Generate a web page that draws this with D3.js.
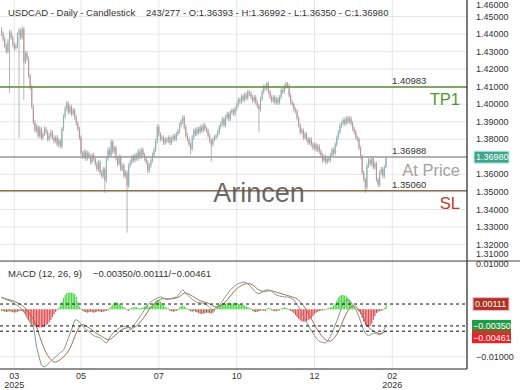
<!DOCTYPE html>
<html>
<head>
<meta charset="utf-8">
<script src="https://cdn.jsdelivr.net/npm/d3@7"></script>
<style>
  body { margin: 0; background: #fff; }
  svg { display: block; font-family: "Liberation Sans", Arial, sans-serif; }
</style>
</head>
<body>
<div id="chart"></div>
<script>
// Daily candles (bar index 0..242)
const candleOpen = [
  1.4420, 1.4400, 1.4370, 1.4330, 1.4300, 1.4360, 1.4410, 1.4380, 1.4340, 1.4320,
  1.4330, 1.4395, 1.4420, 1.4380, 1.4430, 1.4240, 1.4290, 1.4260, 1.4160, 1.4095,
  1.3985, 1.3895, 1.3850, 1.3870, 1.3820, 1.3860, 1.3808, 1.3830, 1.3860, 1.3840,
  1.3800, 1.3820, 1.3840, 1.3810, 1.3790, 1.3810, 1.3770, 1.3790, 1.3760, 1.3860,
  1.3930, 1.3975, 1.4005, 1.3955, 1.3985, 1.3945, 1.3965, 1.3925, 1.3890, 1.3860,
  1.3810, 1.3720, 1.3700, 1.3730, 1.3690, 1.3720, 1.3700, 1.3670, 1.3710, 1.3690,
  1.3660, 1.3630, 1.3670, 1.3610, 1.3590, 1.3630, 1.3565, 1.3690, 1.3740, 1.3710,
  1.3785, 1.3730, 1.3750, 1.3690, 1.3660, 1.3700, 1.3630, 1.3650, 1.3590, 1.3610,
  1.3535, 1.3650, 1.3670, 1.3700, 1.3680, 1.3710, 1.3690, 1.3730, 1.3700, 1.3740,
  1.3710, 1.3690, 1.3670, 1.3620, 1.3650, 1.3680, 1.3710, 1.3740, 1.3790, 1.3870,
  1.3830, 1.3800, 1.3810, 1.3780, 1.3800, 1.3790, 1.3810, 1.3780, 1.3800, 1.3820,
  1.3800, 1.3830, 1.3845, 1.3880, 1.3900, 1.3925, 1.3870, 1.3820, 1.3800, 1.3770,
  1.3745, 1.3810, 1.3850, 1.3830, 1.3860, 1.3840, 1.3870, 1.3850, 1.3880, 1.3860,
  1.3850, 1.3820, 1.3790, 1.3770, 1.3800, 1.3810, 1.3820, 1.3840, 1.3870, 1.3890,
  1.3915, 1.3880, 1.3925, 1.3945, 1.3915, 1.3955, 1.3965, 1.3945, 1.3975, 1.3995,
  1.4025, 1.4015, 1.4045, 1.4025, 1.4055, 1.4035, 1.4070, 1.4060, 1.4040, 1.4020,
  1.4040, 1.4010, 1.3990, 1.3970, 1.4030, 1.4070, 1.4100, 1.4090, 1.4120, 1.4070,
  1.4040, 1.4020, 1.4040, 1.4010, 1.4030, 1.4010, 1.4040, 1.4080, 1.4070, 1.4100,
  1.4118, 1.4105, 1.4050, 1.4010, 1.4000, 1.3970, 1.3960, 1.3920, 1.3880, 1.3840,
  1.3850, 1.3810, 1.3830, 1.3800, 1.3780, 1.3800, 1.3770, 1.3750, 1.3770, 1.3740,
  1.3760, 1.3730, 1.3710, 1.3680, 1.3700, 1.3670, 1.3690, 1.3680, 1.3710, 1.3740,
  1.3720, 1.3770, 1.3810, 1.3840, 1.3880, 1.3890, 1.3910, 1.3890, 1.3920, 1.3900,
  1.3920, 1.3890, 1.3860, 1.3840, 1.3810, 1.3800, 1.3750, 1.3700, 1.3610, 1.3570,
  1.3525, 1.3650, 1.3680, 1.3660, 1.3690, 1.3640, 1.3660, 1.3570, 1.3540, 1.3610,
  1.3630, 1.3590, 1.36393
];
const candleHigh = [
  1.4440, 1.4415, 1.4385, 1.4345, 1.4372, 1.4425, 1.4422, 1.4392, 1.4352, 1.4348,
  1.4408, 1.4436, 1.4432, 1.4445, 1.4438, 1.4305, 1.4302, 1.4272, 1.4175, 1.4108,
  1.3998, 1.3910, 1.3886, 1.3882, 1.3875, 1.3872, 1.3843, 1.3874, 1.3871, 1.3852,
  1.3833, 1.3856, 1.3851, 1.3824, 1.3822, 1.3823, 1.3805, 1.3801, 1.3872, 1.3944,
  1.3990, 1.4018, 1.4016, 1.3998, 1.3997, 1.3980, 1.3977, 1.3938, 1.3903, 1.3872,
  1.3822, 1.3733, 1.3744, 1.3741, 1.3735, 1.3731, 1.3713, 1.3722, 1.3724, 1.3702,
  1.3673, 1.3684, 1.3681, 1.3624, 1.3642, 1.3641, 1.3702, 1.3753, 1.3755, 1.3798,
  1.3796, 1.3764, 1.3762, 1.3704, 1.3713, 1.3711, 1.3664, 1.3661, 1.3624, 1.3622,
  1.3663, 1.3684, 1.3712, 1.3714, 1.3722, 1.3723, 1.3742, 1.3744, 1.3753, 1.3752,
  1.3722, 1.3703, 1.3681, 1.3664, 1.3692, 1.3724, 1.3753, 1.3804, 1.3885, 1.3884,
  1.3842, 1.3823, 1.3821, 1.3812, 1.3813, 1.3822, 1.3823, 1.3814, 1.3833, 1.3831,
  1.3842, 1.3858, 1.3893, 1.3914, 1.3938, 1.3936, 1.3882, 1.3834, 1.3811, 1.3782,
  1.3823, 1.3862, 1.3863, 1.3872, 1.3871, 1.3884, 1.3882, 1.3893, 1.3892, 1.3873,
  1.3862, 1.3833, 1.3804, 1.3812, 1.3824, 1.3832, 1.3853, 1.3882, 1.3903, 1.3928,
  1.3927, 1.3938, 1.3957, 1.3958, 1.3967, 1.3978, 1.3977, 1.3988, 1.4008, 1.4038,
  1.4037, 1.4058, 1.4057, 1.4068, 1.4067, 1.4083, 1.4082, 1.4072, 1.4052, 1.4053,
  1.4052, 1.4023, 1.4001, 1.4043, 1.4083, 1.4113, 1.4112, 1.4128, 1.4126, 1.4082,
  1.4053, 1.4052, 1.4051, 1.4043, 1.4042, 1.4053, 1.4092, 1.4093, 1.4114, 1.4128,
  1.4127, 1.4116, 1.4062, 1.4023, 1.4012, 1.3982, 1.3973, 1.3932, 1.3892, 1.3863,
  1.3862, 1.3843, 1.3842, 1.3813, 1.3812, 1.3811, 1.3783, 1.3782, 1.3781, 1.3773,
  1.3772, 1.3743, 1.3722, 1.3713, 1.3712, 1.3702, 1.3703, 1.3722, 1.3753, 1.3752,
  1.3783, 1.3822, 1.3853, 1.3892, 1.3903, 1.3923, 1.3922, 1.3933, 1.3932, 1.3932,
  1.3932, 1.3903, 1.3872, 1.3853, 1.3822, 1.3813, 1.3762, 1.3713, 1.3622, 1.3583,
  1.3663, 1.3693, 1.3692, 1.3703, 1.3702, 1.3673, 1.3672, 1.3583, 1.3622, 1.3643,
  1.3642, 1.3651, 1.36992
];
const candleLow = [
  1.4388, 1.4357, 1.4318, 1.4287, 1.4290, 1.4064, 1.4368, 1.4328, 1.4307, 1.4308,
  1.4318, 1.3808, 1.4367, 1.4368, 1.4024, 1.4228, 1.4247, 1.4148, 1.4082, 1.3972,
  1.3882, 1.3838, 1.3837, 1.3806, 1.3808, 1.3795, 1.3796, 1.3818, 1.3827, 1.3787,
  1.3788, 1.3807, 1.3797, 1.3776, 1.3778, 1.3757, 1.3756, 1.3747, 1.3748, 1.3847,
  1.3917, 1.3962, 1.3942, 1.3943, 1.3932, 1.3933, 1.3912, 1.3877, 1.3847, 1.3797,
  1.3706, 1.3687, 1.3688, 1.3677, 1.3678, 1.3687, 1.3657, 1.3658, 1.3677, 1.3647,
  1.3617, 1.3618, 1.3597, 1.3577, 1.3578, 1.3495, 1.3552, 1.3677, 1.3697, 1.3698,
  1.3717, 1.3718, 1.3677, 1.3647, 1.3648, 1.3617, 1.3618, 1.3577, 1.3578, 1.3267,
  1.3522, 1.3638, 1.3657, 1.3668, 1.3667, 1.3677, 1.3678, 1.3687, 1.3688, 1.3697,
  1.3677, 1.3657, 1.3607, 1.3608, 1.3637, 1.3667, 1.3697, 1.3727, 1.3777, 1.3817,
  1.3787, 1.3788, 1.3767, 1.3768, 1.3777, 1.3778, 1.3767, 1.3768, 1.3788, 1.3787,
  1.3788, 1.3818, 1.3833, 1.3867, 1.3888, 1.3857, 1.3807, 1.3787, 1.3757, 1.3712,
  1.3733, 1.3797, 1.3817, 1.3818, 1.3827, 1.3828, 1.3837, 1.3838, 1.3847, 1.3837,
  1.3807, 1.3777, 1.3671, 1.3757, 1.3788, 1.3797, 1.3808, 1.3827, 1.3857, 1.3877,
  1.3867, 1.3868, 1.3912, 1.3902, 1.3903, 1.3942, 1.3932, 1.3933, 1.3962, 1.3982,
  1.4002, 1.4003, 1.4012, 1.4013, 1.4022, 1.4023, 1.4047, 1.4027, 1.4007, 1.4008,
  1.3997, 1.3977, 1.3840, 1.3958, 1.4018, 1.4057, 1.4077, 1.4078, 1.4057, 1.4027,
  1.4007, 1.4008, 1.3997, 1.3998, 1.3997, 1.3998, 1.4027, 1.4057, 1.4058, 1.4087,
  1.4092, 1.4037, 1.3997, 1.3987, 1.3957, 1.3947, 1.3907, 1.3867, 1.3827, 1.3828,
  1.3797, 1.3798, 1.3787, 1.3767, 1.3768, 1.3757, 1.3737, 1.3738, 1.3727, 1.3728,
  1.3717, 1.3697, 1.3667, 1.3668, 1.3657, 1.3658, 1.3667, 1.3668, 1.3698, 1.3707,
  1.3708, 1.3757, 1.3797, 1.3827, 1.3867, 1.3877, 1.3877, 1.3878, 1.3887, 1.3888,
  1.3877, 1.3847, 1.3827, 1.3797, 1.3787, 1.3737, 1.3687, 1.3597, 1.3557, 1.3495,
  1.3512, 1.3637, 1.3647, 1.3647, 1.3627, 1.3627, 1.3557, 1.3527, 1.3527, 1.3597,
  1.3577, 1.3577, 1.36350
];
const candleClose = [
  1.4400, 1.4370, 1.4330, 1.4300, 1.4360, 1.4410, 1.4380, 1.4340, 1.4320, 1.4330,
  1.4395, 1.4420, 1.4380, 1.4430, 1.4240, 1.4290, 1.4260, 1.4160, 1.4095, 1.3985,
  1.3895, 1.3850, 1.3870, 1.3820, 1.3860, 1.3808, 1.3830, 1.3860, 1.3840, 1.3800,
  1.3820, 1.3840, 1.3810, 1.3790, 1.3810, 1.3770, 1.3790, 1.3760, 1.3860, 1.3930,
  1.3975, 1.4005, 1.3955, 1.3985, 1.3945, 1.3965, 1.3925, 1.3890, 1.3860, 1.3810,
  1.3720, 1.3700, 1.3730, 1.3690, 1.3720, 1.3700, 1.3670, 1.3710, 1.3690, 1.3660,
  1.3630, 1.3670, 1.3610, 1.3590, 1.3630, 1.3565, 1.3690, 1.3740, 1.3710, 1.3785,
  1.3730, 1.3750, 1.3690, 1.3660, 1.3700, 1.3630, 1.3650, 1.3590, 1.3610, 1.3535,
  1.3650, 1.3670, 1.3700, 1.3680, 1.3710, 1.3690, 1.3730, 1.3700, 1.3740, 1.3710,
  1.3690, 1.3670, 1.3620, 1.3650, 1.3680, 1.3710, 1.3740, 1.3790, 1.3870, 1.3830,
  1.3800, 1.3810, 1.3780, 1.3800, 1.3790, 1.3810, 1.3780, 1.3800, 1.3820, 1.3800,
  1.3830, 1.3845, 1.3880, 1.3900, 1.3925, 1.3870, 1.3820, 1.3800, 1.3770, 1.3745,
  1.3810, 1.3850, 1.3830, 1.3860, 1.3840, 1.3870, 1.3850, 1.3880, 1.3860, 1.3850,
  1.3820, 1.3790, 1.3770, 1.3800, 1.3810, 1.3820, 1.3840, 1.3870, 1.3890, 1.3915,
  1.3880, 1.3925, 1.3945, 1.3915, 1.3955, 1.3965, 1.3945, 1.3975, 1.3995, 1.4025,
  1.4015, 1.4045, 1.4025, 1.4055, 1.4035, 1.4070, 1.4060, 1.4040, 1.4020, 1.4040,
  1.4010, 1.3990, 1.3970, 1.4030, 1.4070, 1.4100, 1.4090, 1.4120, 1.4070, 1.4040,
  1.4020, 1.4040, 1.4010, 1.4030, 1.4010, 1.4040, 1.4080, 1.4070, 1.4100, 1.4118,
  1.4105, 1.4050, 1.4010, 1.4000, 1.3970, 1.3960, 1.3920, 1.3880, 1.3840, 1.3850,
  1.3810, 1.3830, 1.3800, 1.3780, 1.3800, 1.3770, 1.3750, 1.3770, 1.3740, 1.3760,
  1.3730, 1.3710, 1.3680, 1.3700, 1.3670, 1.3690, 1.3680, 1.3710, 1.3740, 1.3720,
  1.3770, 1.3810, 1.3840, 1.3880, 1.3890, 1.3910, 1.3890, 1.3920, 1.3900, 1.3920,
  1.3890, 1.3860, 1.3840, 1.3810, 1.3800, 1.3750, 1.3700, 1.3610, 1.3570, 1.3525,
  1.3650, 1.3680, 1.3660, 1.3690, 1.3640, 1.3660, 1.3570, 1.3540, 1.3610, 1.3630,
  1.3590, 1.3639, 1.36980
];

// MACD (12, 26, 9), in units of 0.0001
const macdLine = [
  26, 24, 22, 20, 19, 18, 17, 15, 12, 10,
  8, 5, 3, 0, -5, -10, -18, -23, -28, -33,
  -37, -55, -79, -92, -105, -117, -120, -121, -119, -116,
  -112, -109, -106, -103, -100, -97, -94, -91, -89, -86,
  -79, -70, -61, -52, -44, -33, -23, -22, -24, -27,
  -31, -35, -39, -42, -44, -47, -50, -53, -55, -57,
  -58, -59, -60, -63, -66, -69, -71, -67, -60, -55,
  -50, -47, -45, -42, -40, -37, -36, -36, -37, -37,
  -37, -44, -40, -35, -30, -26, -21, -16, -11, -6,
  -1, 4, 9, 13, 16, 18, 20, 22, 24, 25,
  26, 25, 23, 21, 20, 21, 22, 23, 24, 25,
  26, 29, 33, 38, 41, 38, 34, 30, 27, 24,
  21, 19, 17, 15, 14, 14, 13, 13, 12, 10,
  7, 4, 1, -1, 1, 4, 7, 10, 13, 17,
  22, 27, 31, 36, 41, 44, 47, 50, 52, 54,
  55, 56, 57, 57, 56, 54, 51, 47, 43, 39,
  36, 34, 33, 34, 36, 38, 40, 41, 41, 40,
  38, 35, 32, 30, 29, 28, 27, 27, 26, 26,
  26, 25, 24, 22, 20, 15, 10, 5, -1, -8,
  -14, -20, -27, -33, -39, -45, -50, -55, -60, -64,
  -67, -69, -69, -70, -71, -68, -63, -57, -50, -42,
  -33, -25, -16, -6, 4, 13, 17, 19, 20, 19,
  15, 10, 5, 0, -8, -16, -25, -37, -44, -50,
  -54, -55, -54, -52, -51, -50, -51, -53, -54, -52,
  -47, -41, -35
];
const signalLine = [
  24, 24, 23, 22, 21, 20, 19, 18, 17, 15,
  14, 12, 10, 8, 5, 2, -2, -6, -11, -16,
  -21, -28, -37, -47, -57, -67, -76, -84, -91, -97,
  -102, -106, -109, -111, -111, -110, -108, -106, -103, -100,
  -97, -93, -88, -82, -75, -67, -58, -50, -43, -37,
  -33, -32, -33, -35, -37, -39, -41, -44, -46, -49,
  -51, -53, -55, -57, -59, -61, -63, -64, -64, -62,
  -59, -56, -53, -50, -47, -44, -42, -41, -40, -39,
  -38, -39, -40, -39, -37, -35, -32, -28, -24, -20,
  -15, -10, -5, 0, 4, 8, 11, 14, 17, 19,
  21, 22, 23, 23, 22, 22, 22, 22, 23, 23,
  24, 25, 27, 29, 32, 34, 34, 33, 32, 30,
  28, 26, 24, 22, 20, 18, 17, 16, 15, 14,
  13, 11, 9, 7, 6, 5, 5, 6, 8, 10,
  13, 16, 20, 24, 28, 32, 36, 40, 43, 46,
  48, 50, 52, 53, 54, 54, 54, 53, 51, 49,
  46, 43, 41, 39, 38, 38, 38, 38, 39, 39,
  39, 38, 37, 36, 35, 34, 33, 32, 31, 30,
  29, 28, 27, 26, 25, 24, 22, 19, 16, 12,
  8, 3, -2, -8, -14, -20, -26, -32, -38, -44,
  -49, -54, -58, -61, -64, -66, -67, -67, -65, -62,
  -58, -53, -47, -40, -32, -24, -16, -9, -3, 2,
  5, 7, 7, 6, 3, -1, -6, -12, -19, -26,
  -32, -37, -41, -44, -46, -48, -49, -50, -51, -51,
  -50, -48, -46
];
const histValues = [
  -3, -4, -5, -6, -5, -4, -5, -6, -7, -6,
  -5, -4, -3, -4, -6, -10, -16, -22, -27, -31,
  -34, -36, -38, -38, -38, -38, -37, -36, -34, -31,
  -27, -22, -16, -10, -5, -2, 3, 8, 15, 24,
  30, 34, 35, 35, 35, 34, 32, 26, 15, 6,
  2, -3, -5, -6, -7, -6, -5, -6, -7, -6,
  -5, -4, -5, -6, -5, -4, -3, -2, 3, 6,
  10, 14, 15, 14, 12, 9, 6, 4, 2, -2,
  -3, 2, 3, 4, 5, 4, 3, 2, 3, 4,
  6, 8, 7, 5, 6, 8, 12, 17, 20, 19,
  16, 12, 8, 5, 3, 2, -3, -4, -5, -4,
  -3, -2, 4, 7, 8, 6, 3, 1, -2, -4,
  -5, -4, -5, -6, -8, -9, -10, -9, -8, -7,
  -7, -8, -9, -7, -4, 3, 6, 9, 11, 12,
  13, 12, 13, 14, 13, 12, 13, 14, 13, 12,
  11, 10, 9, 8, 6, 4, 3, 2, -3, -5,
  -6, -5, -4, -3, -2, -3, -4, 2, 3, 2,
  -2, -3, -4, -4, -3, -2, 2, 3, 4, 3,
  2, -2, -3, -5, -8, -12, -16, -20, -23, -25,
  -26, -26, -25, -23, -21, -18, -14, -10, -7, -5,
  -4, -3, -2, -2, -1, 2, 3, 4, 5, 8,
  12, 18, 24, 28, 30, 30, 29, 27, 24, 20,
  14, 8, 4, 2, -2, -5, -10, -18, -26, -33,
  -37, -37, -35, -30, -22, -14, -8, -5, -4, -3,
  -2, 2, 8
];

// Axis ticks
const priceTicks = [1.31, 1.32, 1.33, 1.34, 1.35, 1.36, 1.37, 1.38, 1.39, 1.40, 1.41, 1.42, 1.43, 1.44, 1.45, 1.46];
const macdTicks = [0.01, -0.01];
const tickIndex = [8, 50, 99, 148, 197, 246];
const tickMonth = ["03", "05", "07", "10", "12", "02"];
const tickYear = ["2025", "", "", "", "", "2026"];

// Trade levels
const levelValues = [1.40983, 1.36988, 1.35060];
const levelNames = ["TP1", "At Price", "SL"];
const levelColors = ["#5d8b36", "#9c9c9c", "#8a7152"];
const levelTextColors = ["#4f9a2c", "#a3a3a3", "#c0392b"];

// Current readings
const lastClose = 1.36980;
const macdNow = [-0.00350, 0.00111, -0.00461]; // macd / hist / signal

const W = 520, H = 390;
const plotRight = 467;
const mainTop = 0, mainBottom = 261;
const macdTop = 261, macdBottom = 369;
const axisFont = "9px";

const svg = d3.select("#chart").append("svg")
    .attr("width", W)
    .attr("height", H);

// Scales
const xScale = d3.scaleLinear().domain([-1, 293]).range([0, plotRight]);
const yPrice = d3.scaleLinear().domain([1.31, 1.46]).range([262, -1]);
const yMacd = d3.scaleLinear().domain([-0.01, 0.01]).range([356.8, 261.8]);

const idx = d3.range(candleClose.length);
const fmt5 = d3.format(".5f");

// Clip regions
const defs = svg.append("defs");
defs.append("clipPath").attr("id", "clipMain").append("rect")
    .attr("x", 0).attr("y", mainTop).attr("width", plotRight).attr("height", mainBottom - mainTop);
defs.append("clipPath").attr("id", "clipMacd").append("rect")
    .attr("x", 0).attr("y", macdTop).attr("width", plotRight).attr("height", macdBottom - macdTop);

// Grid
const grid = svg.append("g").attr("class", "grid");
grid.selectAll(".vgrid")
    .data(tickIndex)
    .enter().append("line")
    .attr("x1", d => xScale(d)).attr("x2", d => xScale(d))
    .attr("y1", 0).attr("y2", macdBottom)
    .attr("stroke", "#e6e6e6").attr("stroke-width", 1);
grid.selectAll(".hgrid")
    .data(priceTicks.filter(p => yPrice(p) > 2 && yPrice(p) < mainBottom - 2))
    .enter().append("line")
    .attr("x1", 0).attr("x2", plotRight)
    .attr("y1", d => yPrice(d)).attr("y2", d => yPrice(d))
    .attr("stroke", "#e6e6e6").attr("stroke-width", 1);
grid.selectAll(".mgrid")
    .data(macdTicks)
    .enter().append("line")
    .attr("x1", 0).attr("x2", plotRight)
    .attr("y1", d => yMacd(d)).attr("y2", d => yMacd(d))
    .attr("stroke", "#e6e6e6").attr("stroke-width", 1);

// Candles
const main = svg.append("g").attr("clip-path", "url(#clipMain)");
const upColor = "#82bab2", downColor = "#c48f99";
main.selectAll(".wick")
    .data(idx)
    .enter().append("line")
    .attr("x1", i => xScale(i)).attr("x2", i => xScale(i))
    .attr("y1", i => yPrice(candleHigh[i]))
    .attr("y2", i => yPrice(candleLow[i]))
    .attr("stroke", "#959595")
    .attr("stroke-width", 0.7);
main.selectAll(".body")
    .data(idx)
    .enter().append("rect")
    .attr("x", i => xScale(i) - 0.55)
    .attr("width", 1.1)
    .attr("y", i => yPrice(Math.max(candleOpen[i], candleClose[i])))
    .attr("height", i => Math.max(0.8, Math.abs(yPrice(candleOpen[i]) - yPrice(candleClose[i]))))
    .attr("fill", i => candleClose[i] >= candleOpen[i] ? upColor : downColor);

// Level lines
levelValues.forEach((v, k) => {
    main.append("line")
        .attr("x1", 0).attr("x2", plotRight)
        .attr("y1", yPrice(v)).attr("y2", yPrice(v))
        .attr("stroke", levelColors[k]).attr("stroke-width", 1.4);
    svg.append("text")
        .attr("x", 392).attr("y", yPrice(v) - 3)
        .attr("font-size", "9.5px").attr("fill", "#333")
        .text(fmt5(v));
    svg.append("text")
        .attr("x", 460).attr("y", yPrice(v) + 18.5)
        .attr("text-anchor", "end")
        .attr("font-size", "16.5px").attr("fill", levelTextColors[k])
        .text(levelNames[k]);
});

// Watermark
svg.append("text")
    .attr("x", 259).attr("y", 202)
    .attr("text-anchor", "middle")
    .attr("font-size", "27px")
    .attr("fill", "#555").attr("fill-opacity", 0.9)
    .text("Arincen");

// MACD histogram
const macd = svg.append("g").attr("clip-path", "url(#clipMacd)");
const step = xScale(1) - xScale(0);
macd.selectAll(".histbg")
    .data(idx)
    .enter().append("rect")
    .attr("x", i => xScale(i) - step / 2)
    .attr("width", step + 0.2)
    .attr("y", i => yMacd(Math.max(0, histValues[i] * 1e-4)))
    .attr("height", i => Math.abs(yMacd(histValues[i] * 1e-4) - yMacd(0)))
    .attr("fill", i => histValues[i] >= 0 ? "#c4f5bd" : "#fbd3dc");
macd.selectAll(".hist")
    .data(idx)
    .enter().append("rect")
    .attr("x", i => xScale(i) - 0.45)
    .attr("width", 0.9)
    .attr("y", i => yMacd(Math.max(0, histValues[i] * 1e-4)))
    .attr("height", i => Math.abs(yMacd(histValues[i] * 1e-4) - yMacd(0)))
    .attr("fill", i => histValues[i] >= 0 ? "#3fcf3f" : (histValues[i] <= -10 ? "#e23a3a" : "#8b5a2b"));

// MACD and signal lines
const macdPath = d3.line().x((d, i) => xScale(i)).y(d => yMacd(d * 1e-4));
macd.append("path").datum(signalLine)
    .attr("d", macdPath).attr("fill", "none")
    .attr("stroke", "#a36c50").attr("stroke-width", 1);
macd.append("path").datum(macdLine)
    .attr("d", macdPath).attr("fill", "none")
    .attr("stroke", "#7f998c").attr("stroke-width", 1);

// Dashed reference lines at the current readings
macd.selectAll(".dash")
    .data(macdNow)
    .enter().append("line")
    .attr("x1", 0).attr("x2", plotRight)
    .attr("y1", d => yMacd(d)).attr("y2", d => yMacd(d))
    .attr("stroke", "#111").attr("stroke-width", 1)
    .attr("stroke-dasharray", "3,3");

// Frame lines
svg.append("line").attr("x1", plotRight).attr("x2", plotRight).attr("y1", 0).attr("y2", macdBottom)
    .attr("stroke", "#222").attr("stroke-width", 1.2);
svg.append("line").attr("x1", 0).attr("x2", W).attr("y1", macdTop).attr("y2", macdTop)
    .attr("stroke", "#444").attr("stroke-width", 1);
svg.append("line").attr("x1", 0).attr("x2", plotRight).attr("y1", macdBottom).attr("y2", macdBottom)
    .attr("stroke", "#222").attr("stroke-width", 1.2);

// Price axis labels (clamped inside the panel)
svg.selectAll(".plabel")
    .data(priceTicks)
    .enter().append("text")
    .attr("x", 476)
    .attr("y", d => Math.max(5, Math.min(254, yPrice(d))))
    .attr("dy", "0.35em")
    .attr("font-size", axisFont).attr("fill", "#333")
    .text(d => fmt5(d));

// MACD axis labels
svg.selectAll(".mlabel")
    .data(macdTicks)
    .enter().append("text")
    .attr("x", 476)
    .attr("y", d => Math.max(macdTop + 3, yMacd(d)))
    .attr("dy", "0.35em")
    .attr("font-size", axisFont).attr("fill", "#333")
    .text(d => fmt5(d));

// Current price badge
const pY = yPrice(lastClose);
svg.append("rect").attr("x", 474).attr("y", pY - 6).attr("width", 35).attr("height", 12)
    .attr("fill", "#3ea68e").attr("stroke", "#bfeee0").attr("stroke-width", 1);
svg.append("text").attr("x", 476).attr("y", pY).attr("dy", "0.35em")
    .attr("font-size", axisFont).attr("fill", "#fff").text(fmt5(lastClose));

// MACD value badges
const histY = yMacd(macdNow[1]);
svg.append("rect").attr("x", 473).attr("y", histY - 6.5).attr("width", 36).attr("height", 13)
    .attr("fill", "#ad3222").attr("stroke", "#f8b4d4").attr("stroke-width", 1.2);
svg.append("text").attr("x", 475).attr("y", histY).attr("dy", "0.35em")
    .attr("font-size", axisFont).attr("fill", "#fff").text(fmt5(macdNow[1]));

const macdY = yMacd(macdNow[0]);
const sigY = yMacd(macdNow[2]);
svg.append("rect").attr("x", 472).attr("y", macdY - 6).attr("width", 39).attr("height", 9)
    .attr("fill", "#1e9c48");
svg.append("rect").attr("x", 472).attr("y", macdY + 3).attr("width", 39).attr("height", 5)
    .attr("fill", "#8b5a2b");
svg.append("text").attr("x", 473).attr("y", macdY).attr("dy", "0.35em")
    .attr("font-size", axisFont).attr("fill", "#fff").text(fmt5(macdNow[0]));
svg.append("rect").attr("x", 472).attr("y", sigY + 2).attr("width", 39).attr("height", 10)
    .attr("fill", "#ee1f24");
svg.append("text").attr("x", 473).attr("y", sigY + 7).attr("dy", "0.35em")
    .attr("font-size", axisFont).attr("fill", "#fff").text(fmt5(macdNow[2]));

// Time axis labels
svg.selectAll(".mlab")
    .data(tickIndex)
    .enter().append("text")
    .attr("x", d => xScale(d)).attr("y", 378.5)
    .attr("text-anchor", "middle")
    .attr("font-size", axisFont).attr("fill", "#333")
    .text((d, k) => tickMonth[k]);
svg.selectAll(".ylab")
    .data(tickIndex)
    .enter().append("text")
    .attr("x", d => xScale(d)).attr("y", 388)
    .attr("text-anchor", "middle")
    .attr("font-size", axisFont).attr("fill", "#333")
    .text((d, k) => tickYear[k]);

// Titles
svg.append("text").attr("x", 8).attr("y", 16)
    .attr("font-size", "9.5px").attr("fill", "#333")
    .text("USDCAD - Daily - Candlestick");
svg.append("text").attr("x", 146).attr("y", 16)
    .attr("font-size", "9.5px").attr("fill", "#333")
    .text("243/277 - O:1.36393 - H:1.36992 - L:1.36350 - C:1.36980");
svg.append("text").attr("x", 8).attr("y", 276.5)
    .attr("font-size", "9.5px").attr("fill", "#333")
    .text("MACD (12, 26, 9)");
svg.append("text").attr("x", 93).attr("y", 276.5)
    .attr("font-size", "9.5px").attr("fill", "#333")
    .text(macdNow.map(fmt5).join("/"));
</script>
</body>
</html>
